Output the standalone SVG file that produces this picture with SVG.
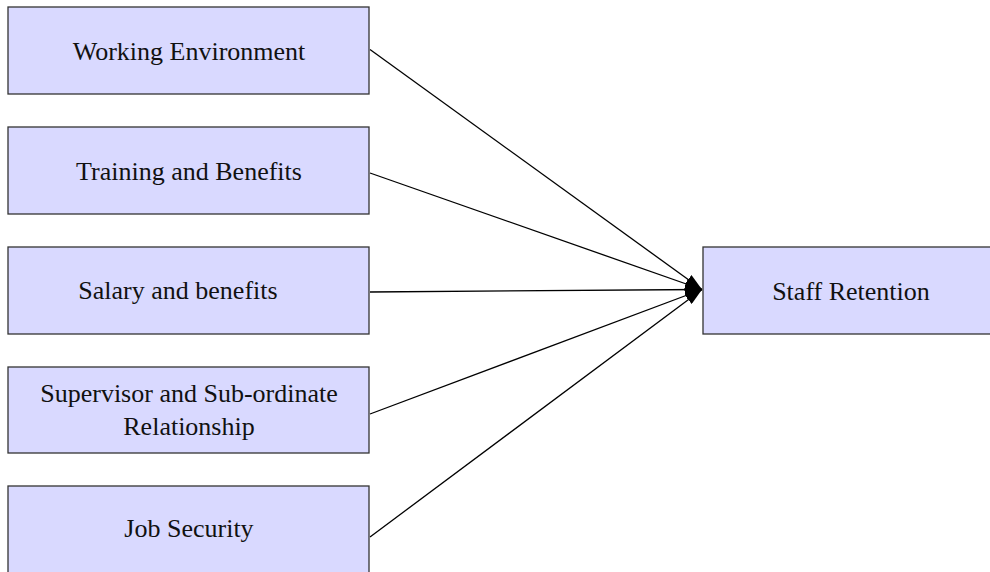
<svg xmlns="http://www.w3.org/2000/svg" width="990" height="572" viewBox="0 0 990 572">
<style>
.box{fill:#d9d9ff;stroke:#333;stroke-width:1.3}
.lbl{font-family:"Liberation Serif","Times New Roman",serif;font-size:26px;fill:#111;text-anchor:middle}
.edge{stroke:#000;stroke-width:1.3;fill:none}
</style>
<defs>
<marker id="arr" markerUnits="userSpaceOnUse" viewBox="0 0 17 11" refX="17" refY="5.5" markerWidth="17" markerHeight="11" orient="auto">
<path d="M0,0 L17,5.5 L0,11 z" fill="#000"/>
</marker>
</defs>
<rect width="990" height="572" fill="#fff"/>
<g id="edges">
<line class="edge" x1="370" y1="49.5" x2="702" y2="289.5" marker-end="url(#arr)"/>
<line class="edge" x1="370" y1="173" x2="702" y2="289.5" marker-end="url(#arr)"/>
<line class="edge" x1="370" y1="292" x2="702" y2="289.5" marker-end="url(#arr)"/>
<line class="edge" x1="370" y1="414" x2="702" y2="289.5" marker-end="url(#arr)"/>
<line class="edge" x1="370" y1="537" x2="702" y2="289.5" marker-end="url(#arr)"/>
</g>
<g id="n1"><rect class="box" x="8" y="7" width="361" height="87"/><text class="lbl" x="189" y="60">Working Environment</text></g>
<g id="n2"><rect class="box" x="8" y="127" width="361" height="87"/><text class="lbl" x="189" y="180">Training and Benefits</text></g>
<g id="n3"><rect class="box" x="8" y="247" width="361" height="87"/><text class="lbl" x="178" y="298.5">Salary and benefits</text></g>
<g id="n4"><rect class="box" x="8" y="367" width="361" height="86"/><text class="lbl" x="189" y="401.5">Supervisor and Sub-ordinate</text><text class="lbl" x="189" y="434.5">Relationship</text></g>
<g id="n5"><rect class="box" x="8" y="486" width="361" height="100"/><text class="lbl" x="189" y="537">Job Security</text></g>
<g id="n6"><rect class="box" x="703" y="247" width="296" height="87"/><text class="lbl" x="851" y="300">Staff Retention</text></g>
</svg>
